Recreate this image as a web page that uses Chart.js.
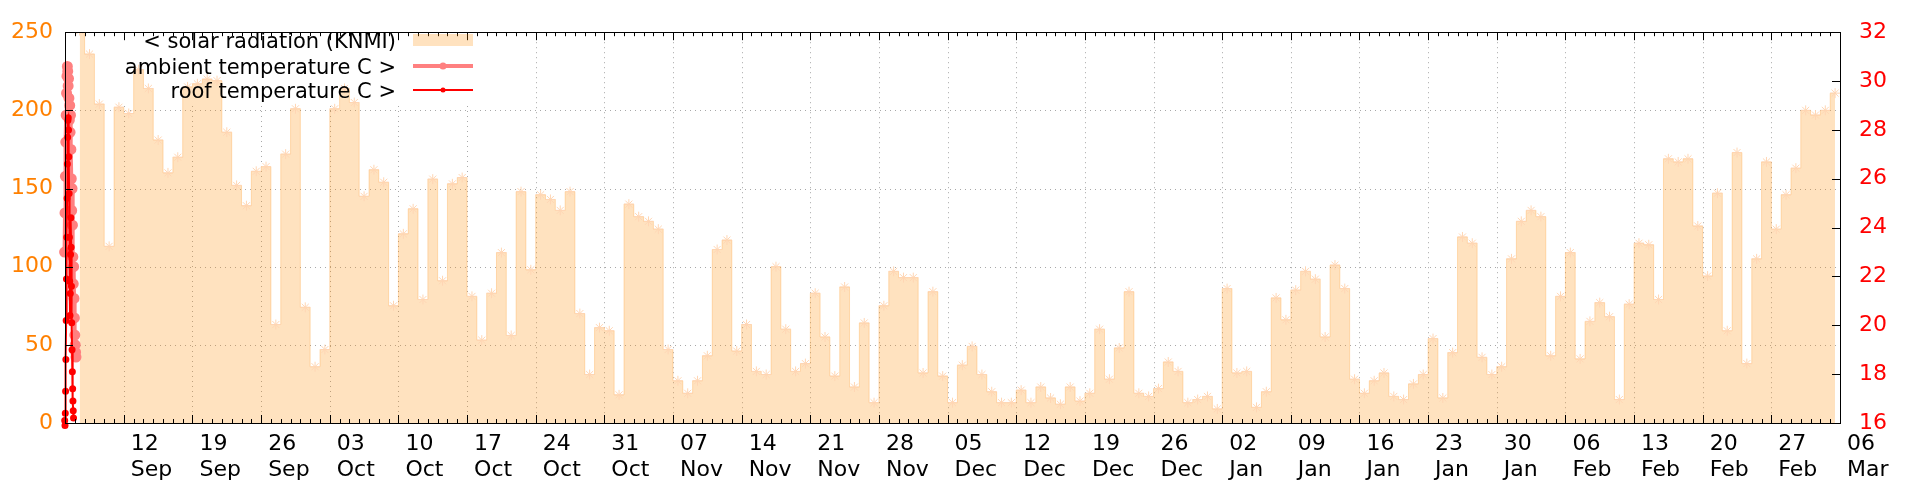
<!DOCTYPE html>
<html>
<head>
<meta charset="utf-8">
<script src="https://cdn.jsdelivr.net/npm/chart.js@4.4.0/dist/chart.umd.min.js"></script>
<style>
  body { margin: 0; background: #fff; }
  #wrap { width: 1920px; height: 480px; }
</style>
</head>
<body>
<div id="wrap"><canvas id="myChart"></canvas></div>
<script>
// x axis is counted in days, day 0 = 06 Sep, day 181 = 06 Mar
const tickDays = [6, 13, 20, 27, 34, 41, 48, 55, 62, 69, 76, 83, 90, 97, 104, 111, 118, 125, 132, 139, 146, 153, 160, 167, 174, 181];
const weekLabels = ['12 Sep', '19 Sep', '26 Sep', '03 Oct', '10 Oct', '17 Oct', '24 Oct', '31 Oct', '07 Nov', '14 Nov', '21 Nov', '28 Nov', '05 Dec',
  '12 Dec', '19 Dec', '26 Dec', '02 Jan', '09 Jan', '16 Jan', '23 Jan', '30 Jan', '06 Feb', '13 Feb', '20 Feb', '27 Feb', '06 Mar'];

// daily solar radiation, first value is day 1 (07 Sep)
const firstSolarDay = 1;
const solarValues = [
  251, 236, 204, 113, 202, 198, 226, 214, 181, 160, 170, 215, 217, 220, 219, 186, 152, 139, 161, 164,
  63, 172, 201, 74, 36, 47, 201, 214, 205, 145, 162, 154, 75, 121, 137, 79, 156, 91, 153, 157,
  81, 53, 83, 109, 56, 148, 98, 146, 143, 136, 148, 70, 31, 61, 59, 18, 140, 132, 129, 124,
  47, 27, 19, 27, 43, 111, 117, 46, 63, 33, 31, 100, 60, 33, 38, 83, 55, 30, 87, 23,
  64, 13, 75, 97, 93, 93, 32, 84, 30, 13, 37, 49, 31, 20, 13, 13, 21, 13, 23, 16,
  12, 23, 14, 19, 60, 28, 48, 84, 19, 17, 22, 39, 33, 13, 15, 17, 9, 86, 32, 33,
  10, 20, 80, 66, 85, 97, 92, 55, 101, 86, 28, 19, 27, 32, 17, 15, 25, 31, 54, 16,
  45, 119, 115, 42, 31, 36, 105, 129, 136, 132, 43, 81, 109, 41, 65, 77, 68, 15, 76, 115,
  114, 79, 169, 167, 169, 126, 94, 147, 59, 173, 38, 105, 167, 124, 146, 163, 200, 197, 200, 211
];

// the temperature logs only cover the first day of the plot
const ambientDays = [-0.28, -0.24, -0.2, -0.16, -0.12, -0.08, -0.04, 0, 0.04, 0.08, 0.12, 0.16, 0.2, 0.24, 0.28, 0.32, 0.36, 0.4,
  0.44, 0.48, 0.52, 0.56, 0.6, 0.64, 0.68, 0.72, 0.76, 0.8, 0.84, 0.88, 0.92, 0.96, 1.0, 1.04, 1.08, 1.12];
const ambientTemp = [21.9, 21.2, 20.6, 20.1, 20.5, 21.6, 23.0, 24.6, 26.1, 27.5, 28.6, 29.5, 30.2, 30.6, 30.4, 29.8, 30.1, 29.3,
  28.4, 29.0, 27.9, 28.6, 27.2, 26.0, 24.7, 25.6, 24.1, 22.8, 21.7, 22.4, 21.1, 20.3, 19.6, 19.2, 18.9, 18.7];
const roofDays = [-0.18, -0.15, -0.12, -0.09, -0.06, -0.03, 0, 0.03, 0.06, 0.09, 0.12, 0.15, 0.18, 0.21, 0.24, 0.27, 0.3, 0.33,
  0.36, 0.39, 0.42, 0.45, 0.48, 0.51, 0.54, 0.57, 0.6, 0.63, 0.66, 0.69, 0.72, 0.75, 0.78, 0.81, 0.84, 0.87];
const roofTemp = [20.5, 19.3, 18.2, 17.3, 16.6, 16.1, 15.9, 16.4, 17.3, 18.6, 20.2, 21.9, 23.6, 25.2, 26.6, 27.7, 28.4, 28.5,
  28.0, 26.9, 25.4, 23.6, 21.8, 20.4, 21.3, 22.9, 24.4, 23.2, 21.6, 20.1, 19.0, 18.1, 17.4, 16.9, 16.5, 16.2];

Chart.defaults.font.family = "'DejaVu Sans', sans-serif";

// area of the key, the grid is not drawn there
const keyBox = { right: 487, bottom: 106 };

// gnuplot look: dotted grid, black frame, inward ticks, key on the left
const gnuplotFrame = {
  id: 'gnuplotFrame',
  beforeDatasetsDraw(chart) {
    const { ctx, chartArea: a, scales } = chart;
    ctx.save();
    ctx.strokeStyle = '#a8a8a8';
    ctx.lineWidth = 1;
    ctx.setLineDash([1, 4]);
    ctx.beginPath();
    scales.y.ticks.forEach((t) => {
      if (t.value <= 0 || t.value >= 250) return;
      const y = Math.round(scales.y.getPixelForValue(t.value)) + 0.5;
      const x0 = y < keyBox.bottom ? keyBox.right : a.left;
      ctx.moveTo(x0, y);
      ctx.lineTo(a.right, y);
    });
    tickDays.forEach((d) => {
      const x = Math.round(scales.x.getPixelForValue(d)) + 0.5;
      if (x >= a.right - 1) return;
      const y0 = x < keyBox.right ? keyBox.bottom : a.top;
      ctx.moveTo(x, y0);
      ctx.lineTo(x, a.bottom);
    });
    ctx.stroke();
    ctx.restore();
  },
  afterDatasetsDraw(chart) {
    const { ctx, chartArea: a, scales } = chart;
    ctx.save();
    ctx.strokeStyle = '#000';
    ctx.lineWidth = 1;
    ctx.setLineDash([]);
    ctx.beginPath();
    // daily minor ticks, weekly major ticks (top and bottom)
    for (let d = 1; d < 181; d++) {
      const x = Math.round(scales.x.getPixelForValue(d)) + 0.5;
      const len = tickDays.indexOf(d) >= 0 ? 8 : 4;
      ctx.moveTo(x, a.bottom); ctx.lineTo(x, a.bottom - len);
      ctx.moveTo(x, a.top); ctx.lineTo(x, a.top + len);
    }
    scales.y.ticks.forEach((t) => {
      const y = Math.round(scales.y.getPixelForValue(t.value)) + 0.5;
      ctx.moveTo(a.left, y); ctx.lineTo(a.left + 8, y);
    });
    scales.y2.ticks.forEach((t) => {
      const y = Math.round(scales.y2.getPixelForValue(t.value)) + 0.5;
      ctx.moveTo(a.right, y); ctx.lineTo(a.right - 8, y);
    });
    ctx.stroke();
    ctx.strokeRect(Math.round(a.left) + 0.5, Math.round(a.top) + 0.5, Math.round(a.right - a.left), Math.round(a.bottom - a.top));

    // key
    const rows = [40, 66, 90];
    ctx.font = "21px 'DejaVu Sans'";
    ctx.textAlign = 'right';
    ctx.textBaseline = 'middle';
    chart.data.datasets.forEach((ds, i) => {
      const y = rows[i];
      ctx.fillStyle = '#000';
      ctx.fillText(ds.label, 396, y + 3);
      if (ds.fill) {
        ctx.fillStyle = ds.backgroundColor;
        ctx.fillRect(413, y - 6, 60, 12);
      } else {
        ctx.strokeStyle = ds.borderColor;
        ctx.lineWidth = ds.borderWidth;
        ctx.beginPath();
        ctx.moveTo(413, y);
        ctx.lineTo(473, y);
        ctx.stroke();
        ctx.fillStyle = ds.pointBackgroundColor;
        ctx.beginPath();
        ctx.arc(443, y, ds.pointRadius, 0, Math.PI * 2);
        ctx.fill();
      }
    });
    ctx.restore();
  }
};

let solarData = solarValues.map((v, i) => ({ x: firstSolarDay + i + 0.5, y: v }));
let ambientData = ambientDays.map((d, i) => ({ x: d, y: ambientTemp[i] }));
let roofData = roofDays.map((d, i) => ({ x: d, y: roofTemp[i] }));

let ctx = document.getElementById('myChart').getContext('2d');
let myChart = new Chart(ctx, {
  type: 'line',
  data: {
    datasets: [
      {
        label: '< solar radiation (KNMI)',
        data: solarData,
        yAxisID: 'y',
        order: 3,
        stepped: 'middle',
        fill: 'origin',
        backgroundColor: 'rgba(255, 140, 0, 0.25)',
        borderColor: 'rgba(255, 140, 0, 0.25)',
        borderWidth: 1,
        pointStyle: 'star',
        pointRadius: 5,
        pointBorderColor: '#ffd6b4',
        pointBorderWidth: 1,
        pointBackgroundColor: '#ffd6b4'
      },
      {
        label: 'ambient temperature C >',
        data: ambientData,
        yAxisID: 'y2',
        order: 2,
        clip: false,
        borderColor: '#ff8080',
        borderWidth: 4,
        pointRadius: 3.5,
        pointBackgroundColor: '#ff8080',
        pointBorderColor: '#ff8080',
        fill: false
      },
      {
        label: 'roof temperature C >',
        data: roofData,
        yAxisID: 'y2',
        order: 1,
        clip: false,
        borderColor: '#ff0000',
        borderWidth: 2,
        pointRadius: 2.5,
        pointBackgroundColor: '#ff0000',
        pointBorderColor: '#ff0000',
        fill: false
      }
    ]
  },
  options: {
    responsive: true,
    maintainAspectRatio: false,
    animation: false,
    layout: { padding: { top: 20, left: 0, right: 0, bottom: 0 } },
    plugins: {
      legend: { display: false },
      tooltip: { enabled: false }
    },
    scales: {
      x: {
        type: 'linear',
        min: 0,
        max: 181,
        grid: { display: false, drawTicks: false },
        border: { display: false },
        afterBuildTicks: function (scale) {
          scale.ticks = tickDays.map((d) => ({ value: d }));
        },
        afterFit: function (scale) { scale.height = 57; },
        ticks: {
          autoSkip: false,
          maxRotation: 0,
          align: 'start',
          labelOffset: 7,
          padding: 8,
          color: '#000',
          font: { size: 22, lineHeight: 1.2 },
          callback: function (value) {
            let i = tickDays.indexOf(value);
            return i >= 0 ? weekLabels[i].split(' ') : '';
          }
        }
      },
      y: {
        position: 'left',
        min: 0,
        max: 250,
        grid: { display: false, drawTicks: false },
        border: { display: false },
        afterFit: function (scale) { scale.width = 65; },
        ticks: { stepSize: 50, color: '#ff8000', padding: 12, font: { size: 22 } }
      },
      y2: {
        position: 'right',
        min: 16,
        max: 32,
        grid: { display: false, drawTicks: false },
        border: { display: false },
        afterFit: function (scale) { scale.width = 80; },
        ticks: { stepSize: 2, color: '#ff0000', padding: 19, font: { size: 22 } }
      }
    }
  },
  plugins: [gnuplotFrame]
});
</script>
</body>
</html>
